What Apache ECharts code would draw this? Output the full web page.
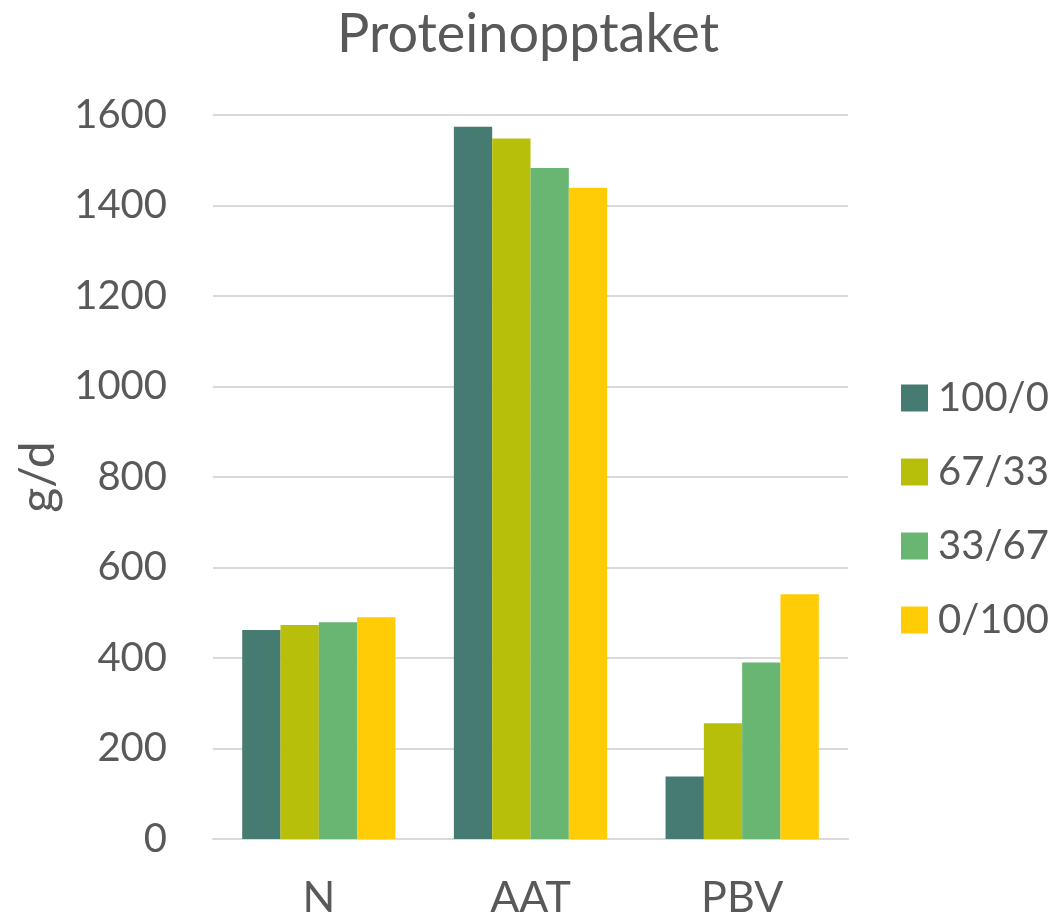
<!DOCTYPE html>
<html>
<head>
<meta charset="utf-8">
<script src="https://cdn.jsdelivr.net/npm/echarts@6/dist/echarts.min.js"></script>
<style>html,body{margin:0;padding:0;background:#fff}#c{width:1056px;height:920px}</style>
</head>
<body>
<div id="c"></div>
<script>
const categories = ['N', 'AAT', 'PBV'];
const seriesNames = ['100/0', '67/33', '33/67', '0/100'];
const s100_0 = [462, 1574, 138];
const s67_33 = [473, 1548, 256];
const s33_67 = [479, 1483, 390];
const s0_100 = [490, 1439, 541];
const yTicks = { min: 0, max: 1600, interval: 200 };
const colors = ['#467B71', '#B8BF0A', '#69B572', '#FFCC05'];

const values = [s100_0, s67_33, s33_67, s0_100];
const FONT = 'Lato';
const TXT = '#595959';

const chart = echarts.init(document.getElementById('c'), null, { renderer: 'canvas' });
chart.setOption({
  animation: false,
  backgroundColor: '#ffffff',
  title: {
    text: 'Proteinopptaket',
    left: 'center',
    top: 3,
    textStyle: { fontFamily: FONT, fontSize: 54, fontWeight: 'normal', color: TXT }
  },
  legend: {
    orient: 'vertical',
    left: 896,
    top: 373,
    itemWidth: 27,
    itemHeight: 27,
    itemGap: 34,
    icon: 'rect',
    data: seriesNames,
    textStyle: { fontFamily: FONT, fontSize: 40, color: TXT, padding: [0, 0, 0, 5] }
  },
  grid: { left: 213, right: 208, top: 115, bottom: 81, containLabel: false },
  xAxis: {
    type: 'category',
    data: categories,
    axisTick: { show: false },
    axisLine: { lineStyle: { color: '#D9D9D9', width: 2 } },
    axisLabel: { fontFamily: FONT, fontSize: 43, color: TXT, margin: 38 }
  },
  yAxis: {
    type: 'value',
    min: yTicks.min,
    max: yTicks.max,
    interval: yTicks.interval,
    name: 'g/d',
    nameLocation: 'middle',
    nameGap: 150,
    nameTextStyle: { fontFamily: FONT, fontSize: 48, color: TXT },
    axisLine: { show: false },
    axisTick: { show: false },
    axisLabel: { fontFamily: FONT, fontSize: 40, color: TXT, margin: 46, formatter: v => String(v) },
    splitLine: { lineStyle: { color: '#D9D9D9', width: 2 } }
  },
  series: seriesNames.map((name, i) => ({
    name,
    type: 'bar',
    data: values[i],
    barGap: '0%',
    barCategoryGap: '27.6%',
    itemStyle: { color: colors[i] }
  }))
});
</script>
</body>
</html>
